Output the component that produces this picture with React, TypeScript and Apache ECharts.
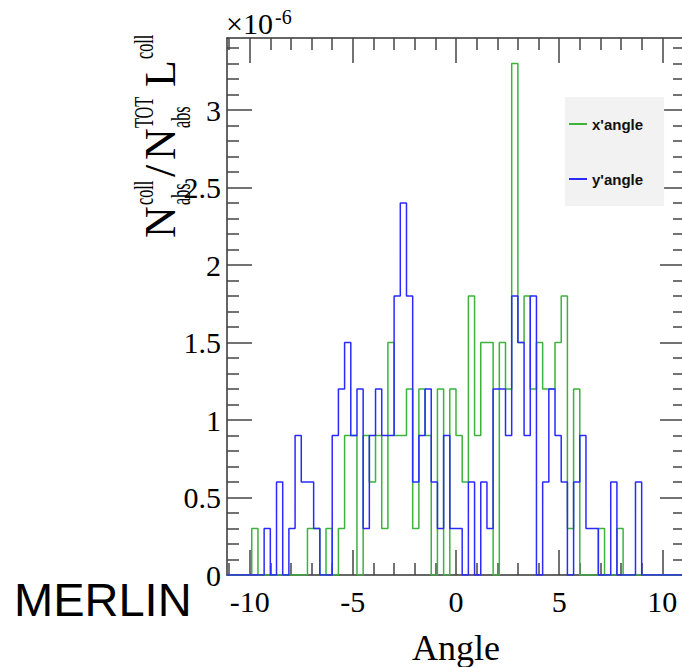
import React, { useEffect, useRef } from 'react';
import * as echarts from 'echarts';

// Histogram binning (axis range equals histogram range)
const HIST_MIN = -11.1;
const HIST_MAX = 11.1;
const BIN_WIDTH = 0.3;
const DATA_FIRST_EDGE = -9.9; // left edge of first value below

// values in units of 1e-6, one per bin of width 0.3 starting at -9.9
const xAngle = [
  0.3, 0, 0, 0, 0, 0, 0, 0, 0, 0.3, 0.3, 0, 0.3, 0,
  0.3, 0.9, 0.9, 0, 0.9, 0.6, 0.9, 0.3, 1.5, 0.9, 0.9, 1.2, 0.3, 1.2, 0.9, 0, 1.2, 0, 1.2,
  0.9, 0.6, 1.8, 0.9, 1.5, 1.5, 0, 1.5, 1.2, 3.3, 1.5, 1.8, 1.2, 1.5, 1.2, 1.2, 1.5, 1.8, 0.3, 1.2,
  0, 0, 0, 0.3, 0, 0, 0.3, 0, 0, 0,
];
const yAngle = [
  0, 0, 0.3, 0, 0.6, 0, 0.3, 0.9, 0.6, 0.6, 0.3, 0, 0, 0.9,
  1.2, 1.5, 0.9, 1.2, 0.3, 0.9, 1.2, 0.9, 0.9, 1.8, 2.4, 1.8, 0.6, 0.9, 1.2, 0.6, 0.3, 0.9, 0.3,
  0.3, 0, 0.6, 0, 0.6, 0.3, 1.2, 1.2, 0.9, 1.8, 1.5, 0.9, 1.8, 0, 0.6, 1.2, 0.9, 0.6, 0, 0.6,
  0.9, 0.3, 0.3, 0, 0, 0.6, 0, 0, 0, 0.6,
];
const seriesNames = ["x'angle", "y'angle"];
const xTickLabels = [-10, -5, 0, 5, 10];
const yTickLabels = [0, 0.5, 1, 1.5, 2, 2.5, 3];
const Y_MAX = 3.465;

const GREEN = '#3db33d';
const BLUE = '#2a2aff';
const SERIF = '"Liberation Serif", "Times New Roman", serif';
const SANS = '"Liberation Sans", Arial, sans-serif';

function toSteps(values: number[]): number[][] {
  const nBins = Math.round((HIST_MAX - HIST_MIN) / BIN_WIDTH);
  const offset = Math.round((DATA_FIRST_EDGE - HIST_MIN) / BIN_WIDTH);
  const pts: number[][] = [];
  let last = 0;
  for (let i = 0; i < nBins; i++) {
    const v = values[i - offset] ?? 0;
    pts.push([+(HIST_MIN + i * BIN_WIDTH).toFixed(4), v]);
    last = v;
  }
  pts.push([HIST_MAX, last]);
  return pts;
}

const xMinor: number[] = [];
for (let i = -11; i <= 11; i++) if (i % 5 !== 0) xMinor.push(i);
const yMinor: number[] = [];
for (let i = 1; i <= 34; i++) if (i % 5 !== 0) yMinor.push(i / 10);

const frameLine = { color: '#333', width: 1.5 };
const tickLine = { color: '#444', width: 1.5 };

function xAx(pos: 'top' | 'bottom', major: boolean, extra: any = {}) {
  return {
    type: 'value', position: pos, min: HIST_MIN, max: HIST_MAX,
    axisLine: { show: major, onZero: false, lineStyle: frameLine },
    axisTick: { show: true, inside: true, length: major ? 25 : 12, lineStyle: tickLine, customValues: major ? xTickLabels : xMinor },
    axisLabel: { show: false },
    splitLine: { show: false },
    ...extra,
  };
}
function yAx(pos: 'left' | 'right', major: boolean, extra: any = {}) {
  return {
    type: 'value', position: pos, min: 0, max: Y_MAX,
    axisLine: { show: major, onZero: false, lineStyle: frameLine },
    axisTick: { show: true, inside: true, length: major ? 25 : 12, lineStyle: tickLine, customValues: major ? yTickLabels : yMinor },
    axisLabel: { show: false },
    splitLine: { show: false },
    ...extra,
  };
}

const small = (text: string, x: number, y: number) => ({
  type: 'text', x, y, scaleX: 0.58,
  style: { text, fontSize: 28, fontFamily: SERIF, fill: '#000', align: 'left', verticalAlign: 'middle' },
});
const big = (text: string, x: number, y: number) => ({
  type: 'text', x, y,
  style: { text, fontSize: 44, fontFamily: SERIF, fill: '#000', align: 'left', verticalAlign: 'middle' },
});

export default function App() {
  const ref = useRef<HTMLDivElement>(null);
  useEffect(() => {
    if (!ref.current) return;
    const chart = echarts.init(ref.current, undefined, { renderer: 'svg' });
    chart.setOption({
      animation: false,
      backgroundColor: '#fff',
      grid: { left: 227, top: 38, width: 458, height: 537, containLabel: false, outerBoundsMode: 'none' },
      legend: {
        data: seriesNames, orient: 'vertical', left: 565, top: 97,
        backgroundColor: '#f2f2f2', padding: [19, 21, 19, 4], itemGap: 39,
        itemWidth: 18, itemHeight: 2, icon: 'rect', selectedMode: false,
        textStyle: { fontSize: 15, fontWeight: 'bold', fontFamily: SANS, color: '#111', lineHeight: 16 },
      },
      xAxis: [
        xAx('bottom', true, {
          axisLabel: { show: true, customValues: xTickLabels, margin: 11, fontSize: 30, fontFamily: SERIF, color: '#000' },
          name: 'Angle', nameLocation: 'middle', nameGap: 55,
          nameTextStyle: { fontSize: 36, fontFamily: SERIF, color: '#000' },
        }),
        xAx('bottom', false),
        xAx('top', true),
        xAx('top', false),
      ],
      yAxis: [
        yAx('left', true, {
          axisLabel: { show: true, customValues: yTickLabels, margin: 6, fontSize: 30, fontFamily: SERIF, color: '#000' },
        }),
        yAx('left', false),
        yAx('right', true),
        yAx('right', false),
      ],
      graphic: [
        { type: 'text', x: 226, y: 23, style: { text: '×10', fontSize: 30, fontFamily: SERIF, fill: '#000', align: 'left', verticalAlign: 'middle' } },
        { type: 'text', x: 275, y: 17, style: { text: '-6', fontSize: 20, fontFamily: SERIF, fill: '#000', align: 'left', verticalAlign: 'middle' } },
        { type: 'text', x: 14, y: 599, style: { text: 'MERLIN', fontSize: 47, fontFamily: SANS, fill: '#000', align: 'left', verticalAlign: 'middle' } },
        {
          type: 'group', x: 175, y: 238, rotation: Math.PI / 2,
          children: [
            big('N', 0, -15),
            small('coll', 33, -31),
            small('abs', 33, 6),
            big('/', 61, -15),
            big('N', 78, -15),
            small('TOT', 110, -31),
            small('abs', 110, 6),
            big('L', 151, -15),
            small('coll', 179, -31),
          ],
        },
      ],
      series: [
        {
          type: 'line', name: seriesNames[0], data: toSteps(xAngle), step: 'end',
          showSymbol: false, symbol: 'none', xAxisIndex: 0, yAxisIndex: 0, z: 3,
          lineStyle: { color: GREEN, width: 1.5 }, itemStyle: { color: GREEN },
        },
        {
          type: 'line', name: seriesNames[1], data: toSteps(yAngle), step: 'end',
          showSymbol: false, symbol: 'none', xAxisIndex: 0, yAxisIndex: 0, z: 4,
          lineStyle: { color: BLUE, width: 1.5 }, itemStyle: { color: BLUE },
        },
      ],
    });
    return () => chart.dispose();
  }, []);
  return (
    <div style={{ position: 'absolute', left: 0, top: 0, width: 682, height: 667, overflow: 'hidden', background: '#fff' }}>
      <div ref={ref} style={{ width: 700, height: 667 }} />
    </div>
  );
}
